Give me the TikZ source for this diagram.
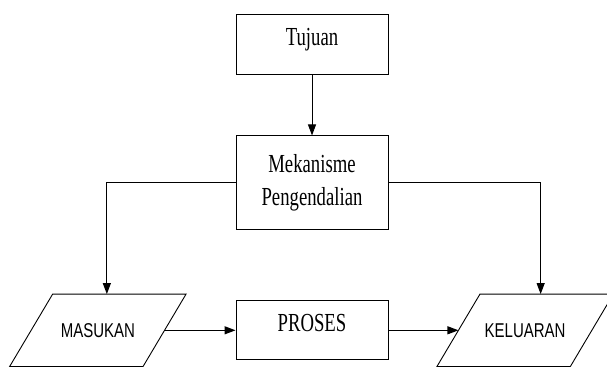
\documentclass[tikz,border=0pt]{standalone}
\usepackage{fontspec}
\setmainfont{Liberation Serif}
\newfontfamily\boxfont[FakeStretch=0.72]{Liberation Serif}
\newfontfamily\iofont[FakeStretch=0.75]{Liberation Sans}
\usetikzlibrary{arrows.meta, positioning}

\begin{document}
\begin{tikzpicture}[
  block/.style={draw, rectangle, line width=0.9pt, minimum width=152pt, minimum height=60pt, font=\boxfont\fontsize{26}{33}\selectfont},
  lift/.style={text depth=14pt},
  io/.style={rectangle, minimum width=133pt, minimum height=72pt, font=\iofont\fontsize{20}{24}\selectfont},
  slant/.style={draw, line width=0.9pt},
  arr/.style={-{Triangle[length=11pt,width=8pt]}, line width=1.1pt},
  node distance=70pt
]
\useasboundingbox (0pt,0pt) rectangle (607pt,367pt);

\node[block, lift] (tujuan) at (312pt,323pt) {Tujuan};
\node[block, minimum height=94pt, align=center, below=61pt of tujuan] (mek) {Mekanisme\\Pengendalian};
\node[block, lift, minimum height=59pt, below=of mek] (proses) {PROSES};
\node[io, left=71pt of proses] (masukan) {MASUKAN};
\node[io, right=of proses] (keluaran) {KELUARAN};

% input / output parallelograms
\foreach \n in {masukan, keluaran}
  \draw[slant] ([xshift=21.5pt]\n.north west) -- ([xshift=21.5pt]\n.north east)
    -- ([xshift=-21.5pt]\n.south east) -- ([xshift=-21.5pt]\n.south west) -- cycle;

\draw[arr, line width=0.9pt] (tujuan) -- (mek);
\draw[arr] (mek.west) -| ([xshift=9pt]masukan.north);
\draw[arr] (mek.east) -| ([xshift=15.5pt]keluaran.north);
\draw[arr] (masukan.east) -- (proses.west);
\draw[arr] (proses.east) -- (keluaran.west);
\end{tikzpicture}
\end{document}
